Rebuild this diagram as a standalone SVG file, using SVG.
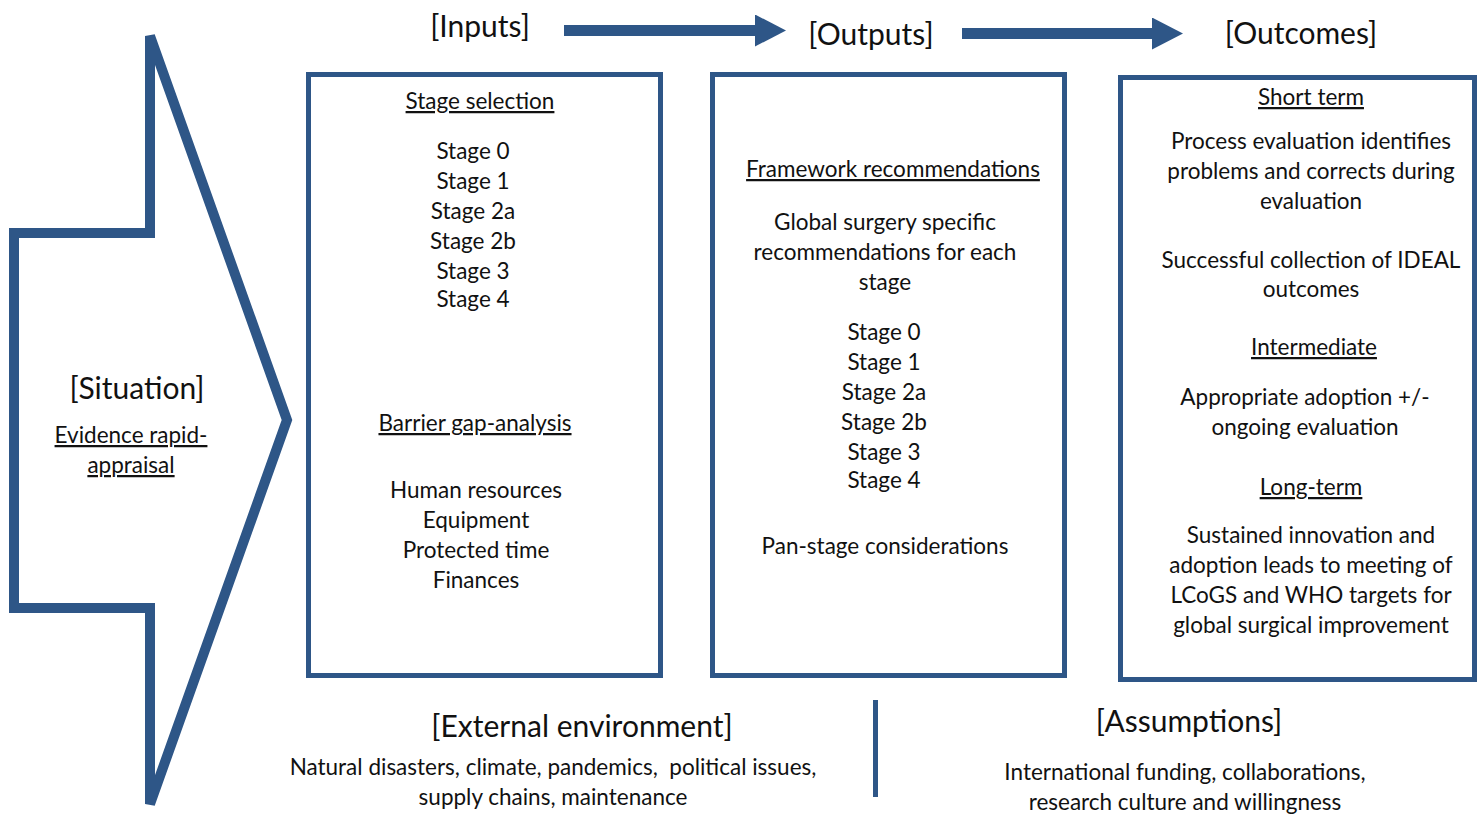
<svg xmlns="http://www.w3.org/2000/svg" width="1480" height="814" viewBox="0 0 1480 814">
<style>
.ln{fill:none;stroke:#2e5687;}
.t{font-family:Lato,"Open Sans","Liberation Sans",sans-serif;font-size:22.5px;fill:#111;text-anchor:middle;}
.h{font-family:Lato,"Open Sans","Liberation Sans",sans-serif;font-size:30px;fill:#111;text-anchor:middle;}
.u{text-decoration:underline;}
</style>
<defs>
<marker id="ah" markerUnits="userSpaceOnUse" markerWidth="32" markerHeight="32" refX="0" refY="16" orient="auto">
<path d="M0,0 L31,16 L0,32 Z" fill="#2e5687"/>
</marker>
</defs>
<rect width="1480" height="814" fill="#fff"/>
<g id="situation">
<polygon class="ln" stroke-width="10" points="14,233 150,233 150,36 287,420 150,804 150,608 14,608"/>
<text class="h" x="137" y="399">[Situation]</text>
<text class="t u" x="131" y="443">Evidence rapid-</text>
<text class="t u" x="131" y="473">appraisal</text>
</g>
<g id="connectors">
<line class="ln" stroke-width="11" x1="564" y1="30.5" x2="755" y2="30.5" marker-end="url(#ah)"/>
<line class="ln" stroke-width="11" x1="962" y1="33.5" x2="1152" y2="33.5" marker-end="url(#ah)"/>
<line class="ln" stroke-width="5" x1="875.5" y1="700" x2="875.5" y2="797"/>
</g>
<g id="inputs">
<text class="h" x="480" y="37">[Inputs]</text>
<rect class="ln" stroke-width="5" x="308.5" y="74.5" width="352" height="601"/>
<text class="t u" x="480" y="109">Stage selection</text>
<text class="t" x="473" y="159">Stage 0</text>
<text class="t" x="473" y="189">Stage 1</text>
<text class="t" x="473" y="219">Stage 2a</text>
<text class="t" x="473" y="249">Stage 2b</text>
<text class="t" x="473" y="279">Stage 3</text>
<text class="t" x="473" y="307">Stage 4</text>
<text class="t u" x="475" y="431">Barrier gap-analysis</text>
<text class="t" x="476" y="498">Human resources</text>
<text class="t" x="476" y="528">Equipment</text>
<text class="t" x="476" y="558">Protected time</text>
<text class="t" x="476" y="588">Finances</text>
</g>
<g id="outputs">
<text class="h" x="871" y="45">[Outputs]</text>
<rect class="ln" stroke-width="5" x="712.5" y="74.5" width="352" height="601"/>
<text class="t u" x="893" y="177">Framework recommendations</text>
<text class="t" x="885" y="230">Global surgery specific</text>
<text class="t" x="885" y="260">recommendations for each</text>
<text class="t" x="885" y="290">stage</text>
<text class="t" x="884" y="340">Stage 0</text>
<text class="t" x="884" y="370">Stage 1</text>
<text class="t" x="884" y="400">Stage 2a</text>
<text class="t" x="884" y="430">Stage 2b</text>
<text class="t" x="884" y="460">Stage 3</text>
<text class="t" x="884" y="488">Stage 4</text>
<text class="t" x="885" y="554">Pan-stage considerations</text>
</g>
<g id="outcomes">
<text class="h" x="1301" y="44">[Outcomes]</text>
<rect class="ln" stroke-width="5" x="1120.5" y="77.5" width="354" height="602"/>
<text class="t u" x="1311" y="105">Short term</text>
<text class="t" x="1311" y="149">Process evaluation identifies</text>
<text class="t" x="1311" y="179">problems and corrects during</text>
<text class="t" x="1311" y="209">evaluation</text>
<text class="t" x="1311" y="268">Successful collection of IDEAL</text>
<text class="t" x="1311" y="297">outcomes</text>
<text class="t u" x="1314" y="355">Intermediate</text>
<text class="t" x="1305" y="405">Appropriate adoption +/-</text>
<text class="t" x="1305" y="435">ongoing evaluation</text>
<text class="t u" x="1311" y="495">Long-term</text>
<text class="t" x="1311" y="543">Sustained innovation and</text>
<text class="t" x="1311" y="573">adoption leads to meeting of</text>
<text class="t" x="1311" y="603">LCoGS and WHO targets for</text>
<text class="t" x="1311" y="633">global surgical improvement</text>
</g>
<g id="external">
<text class="h" x="582" y="737">[External environment]</text>
<text class="t" x="553" y="775">Natural disasters, climate, pandemics,&#160; political issues,</text>
<text class="t" x="553" y="805">supply chains, maintenance</text>
</g>
<g id="assumptions">
<text class="h" x="1189" y="732">[Assumptions]</text>
<text class="t" x="1185" y="780">International funding, collaborations,</text>
<text class="t" x="1185" y="810">research culture and willingness</text>
</g>
</svg>
